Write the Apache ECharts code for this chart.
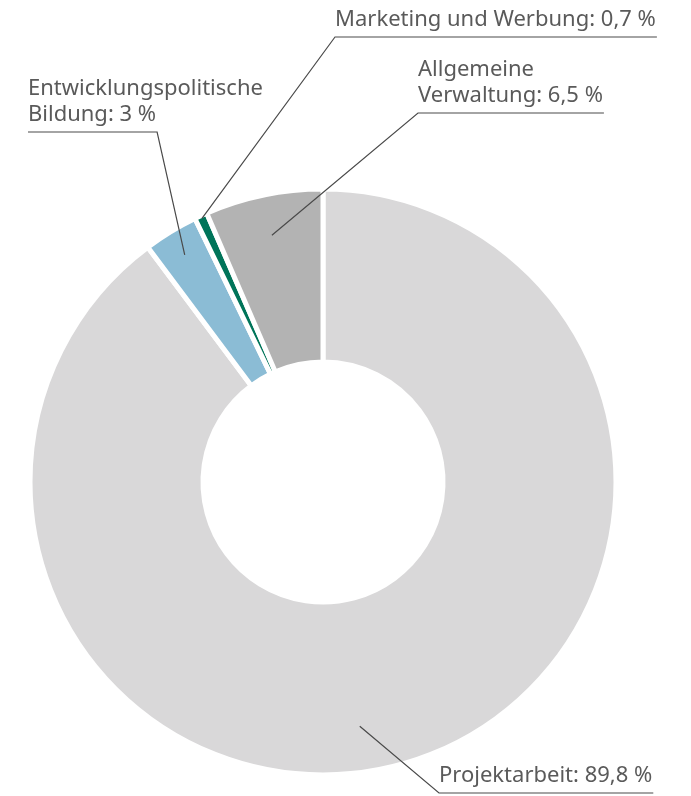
<!DOCTYPE html>
<html>
<head>
<meta charset="utf-8">
<title>Mittelverwendung</title>
<script src="https://cdn.jsdelivr.net/npm/echarts@6/dist/echarts.min.js"></script>
<style>
  html,body{margin:0;padding:0;background:#fff;}
  #main{width:691px;height:796px;}
</style>
</head>
<body>
<div id="main"></div>
<script>
// Werte (Prozent), im Uhrzeigersinn ab 12 Uhr
var names=['Projektarbeit','Entwicklungspolitische\nBildung','Marketing und Werbung','Allgemeine\nVerwaltung'];
var values=[89.8,3,0.7,6.5];
var valueLabels=['89,8','3','0,7','6,5'];
var colors=['#d9d8d9','#8bbcd5','#007459','#b3b3b3'];

// Lage der Beschriftungen (linke Kante, Unterstrich-Höhe) und Startpunkt der Linie im Ring
var labelX=[439,28,335,418];
var underY=[793,132,37,113];
var lineR=[247,266,290,252];
var lineAngleShift=[9.8,0,0,0];
var lineFromRight=[false,true,false,false];

var cx=323, cy=482, outerR=293, innerR=120;
var fontSize=22, lineH=26;
var font=fontSize+'px "Noto Sans"';

var ctx=document.createElement('canvas').getContext('2d');
ctx.font=font;
function lastLineWidth(s){
	var parts=s.split('\n');
	return ctx.measureText(parts[parts.length-1]).width;
}

var total=0;
for(var i=0;i<values.length;i++){ total+=values[i]; }
var midAngle=[];
var acc=0;
for(var i=0;i<values.length;i++){
	midAngle.push((acc+values[i]/2)/total*360);
	acc+=values[i];
}

var pieData=[];
var labelData=[];
for(var i=0;i<values.length;i++){
	pieData.push({
		name:names[i],
		value:values[i],
		itemStyle:{color:colors[i]}
	});
	labelData.push({name:names[i],value:values[i]});
}

var echart=echarts.init(document.getElementById('main'));
var option={
	animation:false,
	series:[{
		// Ring
		type:'pie',
		z:2,
		center:[cx,cy],
		radius:[innerR,outerR],
		startAngle:90,
		clockwise:true,
		silent:true,
		itemStyle:{
			borderColor:'#fff',
			borderWidth:5
		},
		label:{show:false},
		labelLine:{show:false},
		data:pieData
	},{
		// Beschriftungen mit Linien, über dem Ring
		type:'pie',
		z:5,
		center:[cx,cy],
		radius:[innerR,outerR],
		startAngle:90,
		clockwise:true,
		silent:true,
		avoidLabelOverlap:false,
		itemStyle:{
			color:'rgba(0,0,0,0)',
			borderWidth:0
		},
		label:{
			show:true,
			position:'outside',
			color:'#5a5a5a',
			fontFamily:'Noto Sans',
			fontSize:fontSize,
			lineHeight:lineH,
			align:'left',
			formatter:function(p){
				return p.name+': '+valueLabels[p.dataIndex]+' %';
			}
		},
		labelLine:{
			show:true,
			lineStyle:{color:'#4a4a4a',width:1.2}
		},
		labelLayout:function(p){
			var i=p.dataIndex;
			var txt=names[i]+': '+valueLabels[i]+' %';
			var a=(midAngle[i]+lineAngleShift[i])*Math.PI/180;
			var sx=cx+lineR[i]*Math.sin(a);
			var sy=cy-lineR[i]*Math.cos(a);
			var w=lastLineWidth(txt)+1;
			var left=[labelX[i],underY[i]];
			var right=[labelX[i]+w,underY[i]];
			var pts=lineFromRight[i]?[[sx,sy],right,left]:[[sx,sy],left,right];
			return {
				x:labelX[i],
				y:underY[i]-4,
				align:'left',
				verticalAlign:'bottom',
				labelLinePoints:pts
			};
		},
		data:labelData
	}]
};
echart.setOption(option);
</script>
</body>
</html>
